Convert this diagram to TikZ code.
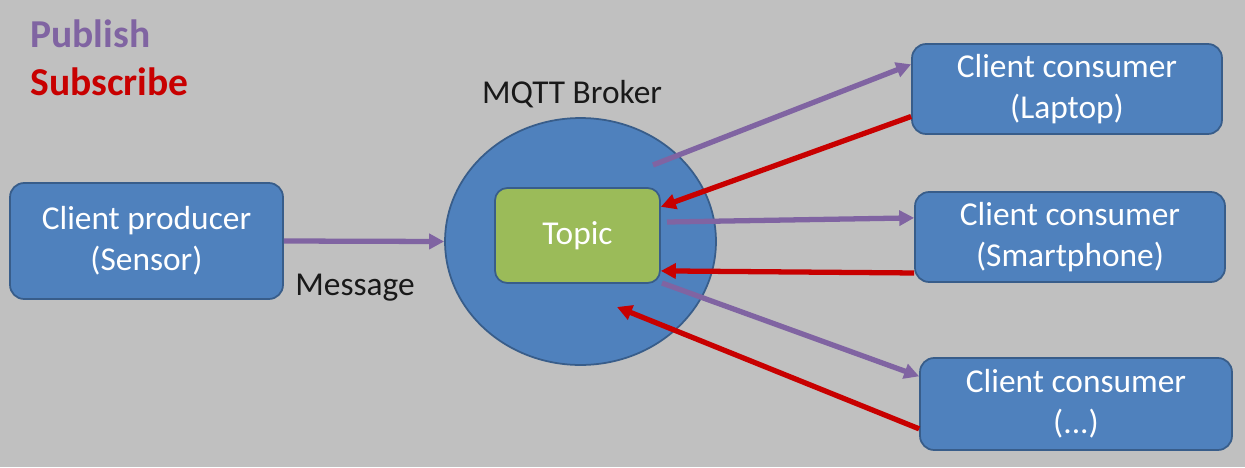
\documentclass[tikz,border=0pt]{standalone}
\usepackage{fontspec}
\setmainfont{Carlito}
\usetikzlibrary{arrows.meta, shapes.geometric}

\definecolor{bggray}{RGB}{192,192,192}
\definecolor{boxblue}{RGB}{79,129,189}
\definecolor{edgeblue}{RGB}{56,93,138}
\definecolor{topicgreen}{RGB}{155,187,89}
\definecolor{pubpurple}{RGB}{128,100,162}
\definecolor{subred}{RGB}{200,0,0}

\begin{document}
\begin{tikzpicture}[
  x=0.02cm, y=-0.02cm,
  client/.style={rectangle, draw=edgeblue, line width=1pt, rounded corners=8pt,
    fill=boxblue, text=white, minimum width=6.2cm, minimum height=1.8cm,
    align=center, font=\fontsize{19}{23.5}\selectfont, inner sep=0pt},
  broker/.style={ellipse, draw=edgeblue, line width=1pt, fill=boxblue,
    minimum width=5.42cm, minimum height=4.94cm, inner sep=0pt},
  topicbox/.style={rectangle, draw=edgeblue, line width=1pt, rounded corners=7pt,
    fill=topicgreen, text=white, minimum width=3.3cm, minimum height=1.9cm,
    font=\fontsize{19}{24}\selectfont, inner sep=0pt},
  lbl/.style={font=\fontsize{19}{24}\selectfont, text=black!90, inner sep=0pt},
  legend/.style={font=\fontsize{22.5}{27}\selectfont\bfseries, inner sep=0pt, anchor=base west},
  pub/.style={-{Triangle[length=8.5pt, width=8.5pt]}, line width=3pt, pubpurple},
  sub/.style={-{Triangle[length=8.5pt, width=8.5pt]}, line width=3pt, subred},
]

% Canvas
\fill[bggray] (0,0) rectangle (1245,467);

% Legend
\node[legend, text=pubpurple] (publish) at (30,47) {Publish};
\node[legend, text=subred] (subscribe) at (30,95) {Subscribe};

% Producer and broker
\node[client, minimum width=5.46cm, minimum height=2.32cm] (producer) at (146.5,241)
  {Client producer\\(Sensor)};
\node[broker] (broker) at (580.5,241.5) {};
\node[topicbox] (topic) at (577.5,235.5) {Topic};
\node[lbl, anchor=base] (brokerlbl) at (572,103) {MQTT Broker};
\node[lbl, anchor=base west] (msg) at (295,295) {Message};

% Consumers
\node[client] (laptop) at (1067,89) {Client consumer\\(Laptop)};
\node[client] (phone) at (1070,237) {Client consumer\\(Smartphone)};
\node[client, minimum width=6.24cm, minimum height=1.84cm] (other) at (1076,404)
  {Client consumer\\(...)};

% Free ends inside the broker
\coordinate (outA) at (653,165);
\coordinate (outB) at (667,222);
\coordinate (outC) at (662,283);
\coordinate (inC) at (617,307);

% Publish arrows
\draw[pub] (producer.east) -- (broker.west);
\draw[pub] (outA) -- (laptop.171);
\draw[pub] (outB) -- (phone.173);
\draw[pub] (outC) -- (other.170);

% Subscribe arrows
\draw[sub] (laptop.190) -- (topic.19);
\draw[sub] (phone.193) -- (topic.-23);
\draw[sub] (other.189) -- (inC);

\end{tikzpicture}
\end{document}
